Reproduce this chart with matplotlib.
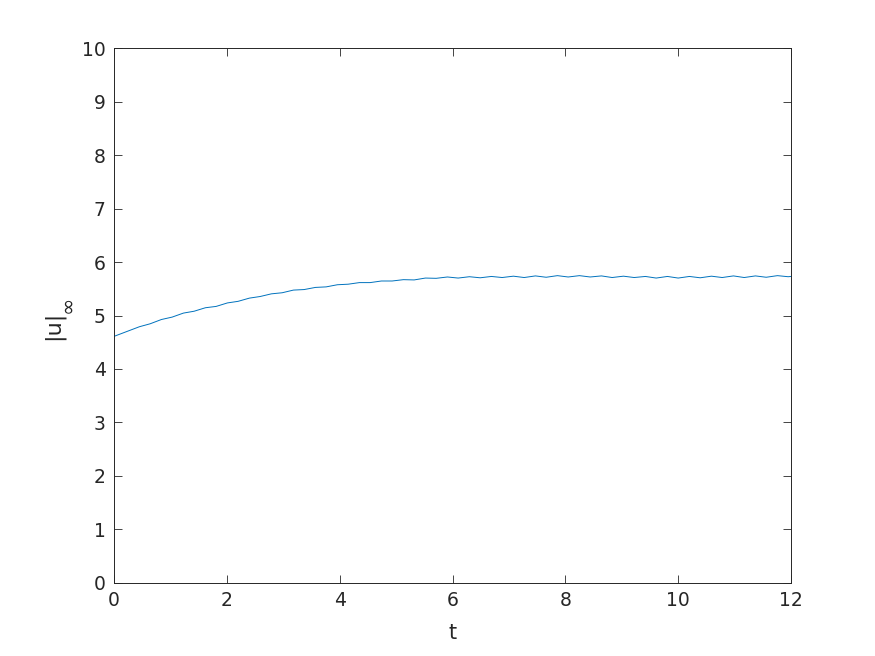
import numpy as np
import matplotlib
matplotlib.use("Agg")
import matplotlib.pyplot as plt

# values (dips / peaks of the ripple)
t_vals = [0.00, 0.25, 0.45, 0.64, 0.84, 1.03, 1.23, 1.42, 1.62, 1.81,
          2.01, 2.20, 2.40, 2.59, 2.79, 2.98, 3.18, 3.37, 3.57, 3.76,
          3.96, 4.15, 4.35, 4.54, 4.74, 4.93, 5.13, 5.32, 5.52, 5.71,
          5.91, 6.10, 6.30, 6.49, 6.69, 6.88, 7.08, 7.27, 7.47, 7.66,
          7.86, 8.05, 8.25, 8.44, 8.64, 8.83, 9.03, 9.22, 9.42, 9.61,
          9.81, 10.00, 10.20, 10.39, 10.59, 10.78, 10.98, 11.17, 11.37, 11.56,
          11.76, 11.95, 12.00]
u_inf = [4.61, 4.71, 4.79, 4.845, 4.925, 4.97, 5.045, 5.08, 5.145, 5.17,
         5.235, 5.265, 5.325, 5.355, 5.405, 5.425, 5.475, 5.485, 5.525, 5.535,
         5.575, 5.585, 5.615, 5.615, 5.645, 5.645, 5.67, 5.665, 5.70, 5.695,
         5.72, 5.70, 5.725, 5.705, 5.73, 5.71, 5.735, 5.71, 5.74, 5.715,
         5.745, 5.72, 5.745, 5.72, 5.74, 5.71, 5.735, 5.71, 5.73, 5.70,
         5.73, 5.70, 5.73, 5.705, 5.735, 5.71, 5.74, 5.71, 5.74, 5.715,
         5.745, 5.725, 5.73]

x_ticks = [0, 2, 4, 6, 8, 10, 12]
y_ticks = list(range(0, 11))

axcol = '#262626'

fig = plt.figure(figsize=(8.75, 6.56), dpi=100)
ax = fig.add_axes([0.1303, 0.1113, 0.7737, 0.8155])

ax.plot(t_vals, u_inf, color='#0072BD', lw=0.7)

ax.set_xlim(0, 12)
ax.set_ylim(0, 10)
ax.set_xticks(x_ticks)
ax.set_yticks(y_ticks)
ax.tick_params(direction='in', length=6, width=0.6, colors=axcol,
               labelsize=13.5, top=True, right=True, pad=6)
for s in ax.spines.values():
    s.set_color(axcol)
    s.set_linewidth(0.7)

ax.set_xlabel('t', fontsize=15, color=axcol, labelpad=9)
# |u| with a larger infinity subscript, as in the original
fig.text(53 / 875, 1 - 325 / 656, '|u|', rotation=90, fontsize=16,
         color=axcol, ha='center', va='center')
fig.text(67 / 875, 1 - 304 / 656, '\u221e', rotation=90, fontsize=15,
         color=axcol, ha='center', va='center')

fig.savefig('out.png', dpi=100)
